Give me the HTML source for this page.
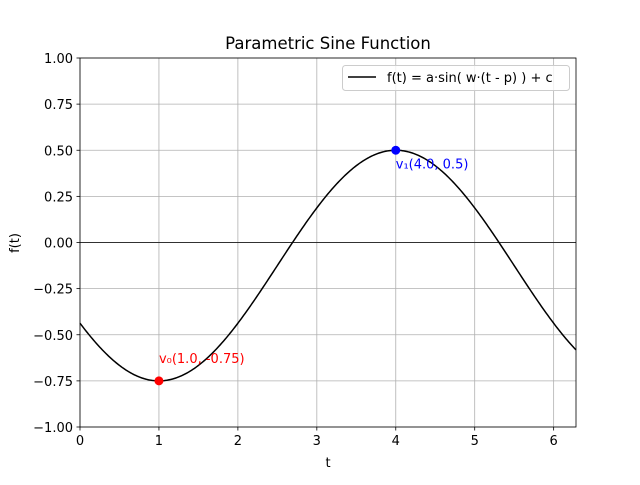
<!DOCTYPE html>
<html><head><meta charset="utf-8"><style>
body{margin:0;background:#fff}
svg{font-family:"DejaVu Sans","Liberation Sans",sans-serif}
</style></head><body>
<svg id="c" width="640" height="480" xmlns="http://www.w3.org/2000/svg"></svg>
<script>
const xTicks=[0,1,2,3,4,5,6];
const yTicks=[-1,-0.75,-0.5,-0.25,0,0.25,0.5,0.75,1];
const yTickLabels=["\u22121.00","\u22120.75","\u22120.50","\u22120.25","0.00","0.25","0.50","0.75","1.00"];
const amplitude=[0.625];
const omega=[Math.PI/3];
const phase=[2.5];
const offset=[-0.125];
const pointX=[1.0,4.0];
const pointY=[-0.75,0.5];
const pointLabels=["v\u2080(1.0, -0.75)","v\u2081(4.0, 0.5)"];
const pointColors=["red","blue"];
const X0=80,X1=576,Y0=427,Y1=58,XMAX=2*Math.PI;
const sx=v=>X0+(v/XMAX)*(X1-X0);
const sy=v=>Y0-(v+1)/2*(Y0-Y1);
const NS="http://www.w3.org/2000/svg";
const svg=document.getElementById('c');
function mk(t,a,p){const e=document.createElementNS(NS,t);for(const k in a)e.setAttribute(k,a[k]);(p||svg).appendChild(e);return e;}
xTicks.forEach(v=>{const l=mk('line',{x1:sx(v),x2:sx(v),y1:Y1,y2:Y0,stroke:'#b0b0b0','stroke-width':0.8});

});
yTicks.forEach(v=>{const l=mk('line',{x1:X0,x2:X1,y1:sy(v),y2:sy(v),stroke:'#b0b0b0','stroke-width':0.8});

});
const zl=mk('line',{x1:X0,x2:X1,y1:sy(0),y2:sy(0),stroke:'#000','stroke-width':0.8});


let d='';
for(let i=0;i<=400;i++){const t=XMAX*i/400;const f=amplitude[0]*Math.sin(omega[0]*(t-phase[0]))+offset[0];d+=(i?'L':'M')+sx(t).toFixed(2)+','+sy(f).toFixed(2);}
const cp=mk('path',{d:d,fill:'none',stroke:'#000','stroke-width':1.5});


pointX.forEach((v,i)=>{const c=mk('circle',{cx:sx(v),cy:sy(pointY[i]),r:4.5,fill:pointColors[i]});


const up=i===0;
const t=mk('text',{x:sx(v),y:up?sy(pointY[i])-18:sy(pointY[i])+18,fill:pointColors[i],'font-size':13});
t.textContent=pointLabels[i];

});
const fr=mk('rect',{x:X0,y:Y1,width:X1-X0,height:Y0-Y1,fill:'none',stroke:'#000','stroke-width':0.8});


xTicks.forEach(v=>{mk('line',{x1:sx(v),x2:sx(v),y1:Y0,y2:Y0+3.5,stroke:'#000','stroke-width':0.8});
const t=mk('text',{x:sx(v),y:Y0+18,'text-anchor':'middle','font-size':13});t.textContent=v;

});
yTicks.forEach((v,i)=>{mk('line',{x1:X0-3.5,x2:X0,y1:sy(v),y2:sy(v),stroke:'#000','stroke-width':0.8});
const t=mk('text',{x:X0-7,y:sy(v)+5,'text-anchor':'end','font-size':13});t.textContent=yTickLabels[i];

});
let t=mk('text',{x:328,y:49,'text-anchor':'middle','font-size':16.5});t.textContent='Parametric Sine Function';


t=mk('text',{x:328,y:467,'text-anchor':'middle','font-size':13});t.textContent='t';


t=mk('text',{x:19,y:243,'text-anchor':'middle','font-size':13,transform:'rotate(-90 19 243)'});t.textContent='f(t)';


const lg=mk('g',{});


mk('rect',{x:342.5,y:65.5,width:227,height:25,rx:3,fill:'#fff','fill-opacity':0.8,stroke:'#ccc'},lg);
mk('line',{x1:348,x2:376,y1:77,y2:77,stroke:'#000','stroke-width':1.5},lg);
t=mk('text',{x:387,y:82,'font-size':13},lg);t.textContent='f(t) = a\u00b7sin( w\u00b7(t - p) ) + c';


</script>
</body></html>
